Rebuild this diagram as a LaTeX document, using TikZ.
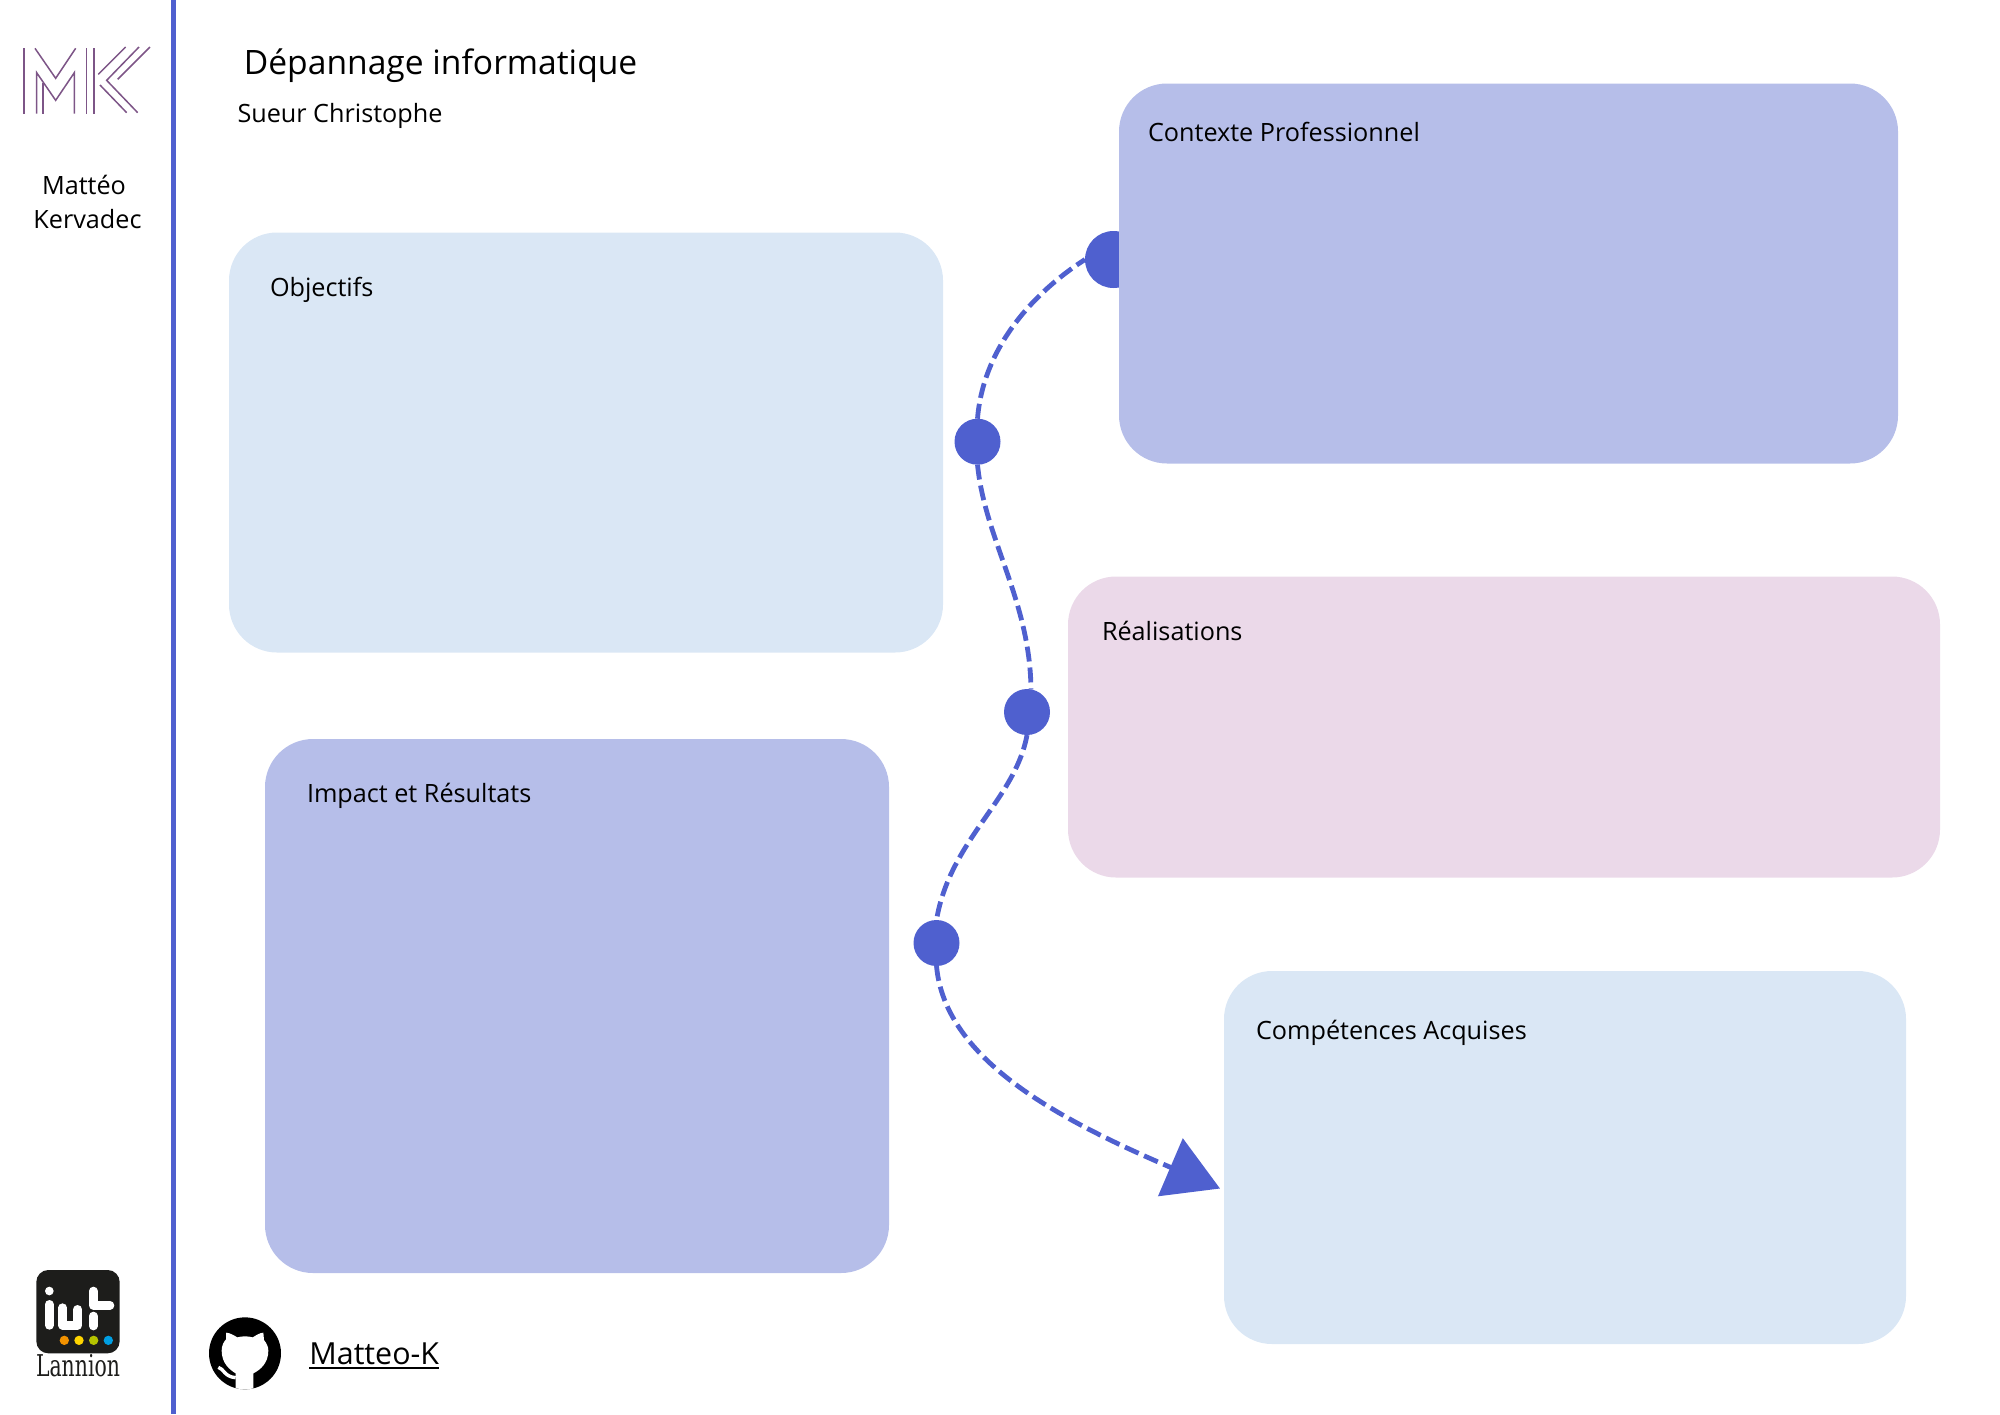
\documentclass[tikz,border=0pt]{standalone}
\usepackage{fontspec}
\setmainfont{Open Sans}
\newfontfamily\slabfont[FakeStretch=0.68]{DejaVu Serif}
\usetikzlibrary{arrows.meta}
\definecolor{accent}{HTML}{4F60CF}
\definecolor{paleblue}{HTML}{DAE7F5}
\definecolor{periwinkle}{HTML}{B6BEE9}
\definecolor{palepink}{HTML}{EBD9E9}
\definecolor{logopurple}{HTML}{7D5587}
\definecolor{iutblack}{HTML}{1D1D1B}
\definecolor{iutorange}{HTML}{F39200}
\definecolor{iutyellow}{HTML}{FFD500}
\definecolor{iutgreen}{HTML}{B5C400}
\definecolor{iutblue}{HTML}{009FE3}
\tikzset{
  box/.style={rounded corners=24pt,draw=none,inner sep=0pt,outer sep=0pt},
  label/.style={anchor=base west,inner sep=0pt,outer sep=0pt,font=\fontsize{12.6}{15}\selectfont},
  centred/.style={anchor=base,inner sep=0pt,outer sep=0pt,font=\fontsize{12.6}{15}\selectfont},
  dot/.style={circle,fill=accent,draw=none,inner sep=0pt,outer sep=0pt,minimum size=23pt},
  conn/.style={draw=accent,line width=2.4pt,dash pattern=on 7.5pt off 3pt},
  logoline/.style={draw=logopurple,line width=0.75pt},
  iutstroke/.style={draw=white,line width=4.33pt,line cap=round,line join=round},
}
\begin{document}
\begin{tikzpicture}[x=0.5pt,y=-0.5pt]
\useasboundingbox (0,0) rectangle (2000,1414);
% side rule
\fill[accent] (171.3,0) rectangle (176,1414);
% half-hidden start dot
\node[dot,minimum size=28.5pt] (start) at (1113.5,259.5) {};
% boxes
\node[box,fill=periwinkle,minimum width=389.5pt,minimum height=190pt] (ctx) at (1508.5,273.5) {};
\node[box,fill=paleblue,minimum width=357pt,minimum height=210pt] (obj) at (586,442.5) {};
\node[box,fill=periwinkle,minimum width=312pt,minimum height=267pt] (imp) at (577,1006) {};
\node[box,fill=palepink,minimum width=436pt,minimum height=150.5pt] (rea) at (1504,727) {};
\node[box,fill=paleblue,minimum width=341pt,minimum height=186.5pt] (cmp) at (1565,1157.5) {};
% labels
\node[anchor=base west,inner sep=0pt,font=\fontsize{16.8}{20}\selectfont] (title) at (243.5,74) {Dépannage informatique};
\node[label] (teacher) at (237.5,122) {Sueur Christophe};
\node[centred] (first) at (84,194) {Mattéo};
\node[centred] (last) at (87.5,228) {Kervadec};
\node[label] (lctx) at (1148,141) {Contexte Professionnel};
\node[label] (lobj) at (270,296) {Objectifs};
\node[label] (limp) at (307,802) {Impact et Résultats};
\node[label] (lrea) at (1102,640) {Réalisations};
\node[label] (lcmp) at (1256,1039) {Compétences Acquises};
% dots and connectors
\node[dot] (a) at (977.5,441.7) {};
\node[dot] (b) at (1027,712) {};
\node[dot] (c) at (936.5,943) {};
\coordinate (tip) at (1220,1188.5);
\draw[conn] (a.north) .. controls (983,350) and (1030,295) .. (start.west);
\draw[conn] (a.south) .. controls (985,540) and (1030,600) .. (b.80);
\draw[conn] (b.south) .. controls (1015,800) and (950,840) .. (c.north);
\draw[conn,-{Triangle[length=27pt,width=31pt,fill=accent]}] (c.south) .. controls (945,1060) and (1060,1120) .. (tip);
% MK logo
\begin{scope}[shift={(15,41)},scale=1/3]
\draw[logoline] (27,22) -- (27,218);
\draw[logoline] (60,22) -- (122,112) -- (182,22);
\draw[logoline] (65,218) -- (65,95) -- (122,178) -- (178,95) -- (178,218);
\draw[logoline] (84,218) -- (84,125);
\draw[logoline] (215,22) -- (215,218);
\draw[logoline] (237,22) -- (237,218);
\draw[logoline] (250,100) -- (332,18);
\draw[logoline] (372,18) -- (275,118) -- (368,215);
\draw[logoline] (405,18) -- (308,115);
\draw[logoline] (255,132) -- (335,215);
\end{scope}
% IUT logo
\begin{scope}[shift={(30,1266)},scale=1/3]
\fill[iutblack,rounded corners=6pt] (19,12) rectangle (269,262);
\fill[white] (58,75) circle (13);
\draw[iutstroke] (58,115) -- (58,178);
\draw[iutstroke] (98,125) -- (98,178) -- (143,178) -- (143,130);
\draw[iutstroke] (190,75) -- (190,118) -- (240,118);
\draw[iutstroke] (190,150) -- (190,180);
\fill[iutorange] (103,223) circle (14);
\fill[iutyellow] (147,223) circle (14);
\fill[iutgreen] (191,223) circle (14);
\fill[iutblue] (235,223) circle (14);
\end{scope}
\node[anchor=base,inner sep=0pt,text=iutblack,font=\slabfont\fontsize{15}{18}\selectfont] (lannion) at (78,1376.5) {Lannion};
% GitHub mark
\begin{scope}[shift={(200,1310)},scale=1/3]
\fill[black] (135,130) circle (108);
\begin{scope}
\clip (135,130) circle (108);
\fill[white] (107,240) -- (107,190) .. controls (90,180) and (65,160) .. (65,122)
  .. controls (65,105) and (72,95) .. (78,88) -- (78,68)
  .. controls (90,68) and (105,78) .. (112,82)
  .. controls (125,78) and (145,78) .. (158,82)
  .. controls (168,76) and (180,68) .. (190,68) -- (192,90)
  .. controls (200,100) and (205,110) .. (205,122)
  .. controls (205,160) and (180,180) .. (160,190) -- (160,240) -- cycle;
\draw[white,line width=1.7pt] (55,172) .. controls (72,176) and (72,200) .. (107,203);
\end{scope}
\end{scope}
\node[anchor=base west,inner sep=0pt,font=\fontsize{15.2}{18}\selectfont] (gh) at (309,1364) {Matteo-K};
\draw[black,line width=1pt] ([yshift=-1.8pt]gh.base west) -- ([yshift=-1.8pt]gh.base east);
\end{tikzpicture}
\end{document}
